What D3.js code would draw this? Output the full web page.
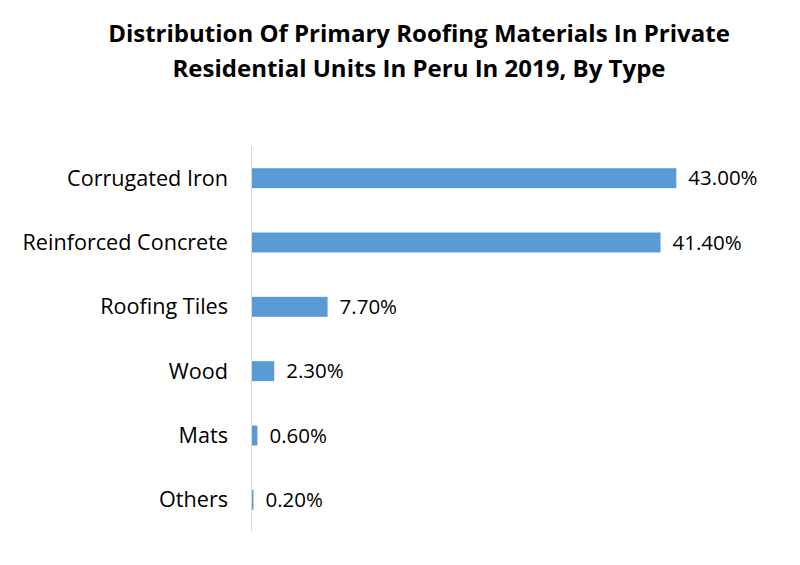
<!DOCTYPE html>
<html><head><meta charset="utf-8">
<script src="https://cdn.jsdelivr.net/npm/d3@7"></script>
<style>body{margin:0;background:#fff;} svg{display:block;}</style>
</head><body>
<svg id="c" width="800" height="565"></svg>
<script>
const categories = ["Corrugated Iron","Reinforced Concrete","Roofing Tiles","Wood","Mats","Others"];
const values = [43.0, 41.4, 7.7, 2.3, 0.6, 0.2];
const titleLines = ["Distribution Of Primary Roofing Materials In Private","Residential Units In Peru In 2019, By Type"];

const svg = d3.select("#c");
const font = "'Open Sans', sans-serif";
const x = d3.scaleLinear().domain([0, 50]).range([251.5, 745.5]);
const y = d3.scaleBand().domain(categories).range([146, 532]).paddingInner(0.69).paddingOuter(0.345);

svg.append("g").selectAll("text").data(titleLines).join("text")
  .attr("x", 419).attr("y", (d,i)=>42+i*35)
  .attr("text-anchor","middle").attr("font-family",font).attr("font-weight","bold")
  .attr("font-size",24).attr("fill","#000").text(d=>d);

svg.append("g").selectAll("rect").data(values).join("rect")
  .attr("x", x(0)).attr("y",(d,i)=>y(categories[i]))
  .attr("width", d=>x(d)-x(0)).attr("height", y.bandwidth())
  .attr("fill","#5B9BD5");

svg.append("line").attr("x1",x(0)).attr("x2",x(0)).attr("y1",146).attr("y2",532)
  .attr("stroke","#d9d9d9").attr("stroke-width",1);

svg.append("g").selectAll("text").data(categories).join("text")
  .attr("x",228).attr("y",d=>y(d)+y.bandwidth()/2).attr("dy","0.35em")
  .attr("text-anchor","end").attr("font-family",font).attr("font-size",21.6).attr("fill","#000")
  .text(d=>d);

svg.append("g").selectAll("text").data(values).join("text")
  .attr("x",d=>x(d)+12).attr("y",(d,i)=>y(categories[i])+y.bandwidth()/2).attr("dy","0.35em")
  .attr("font-family",font).attr("font-size",20.5).attr("fill","#000")
  .text(d=>d.toFixed(2)+"%");
</script>
</body></html>
